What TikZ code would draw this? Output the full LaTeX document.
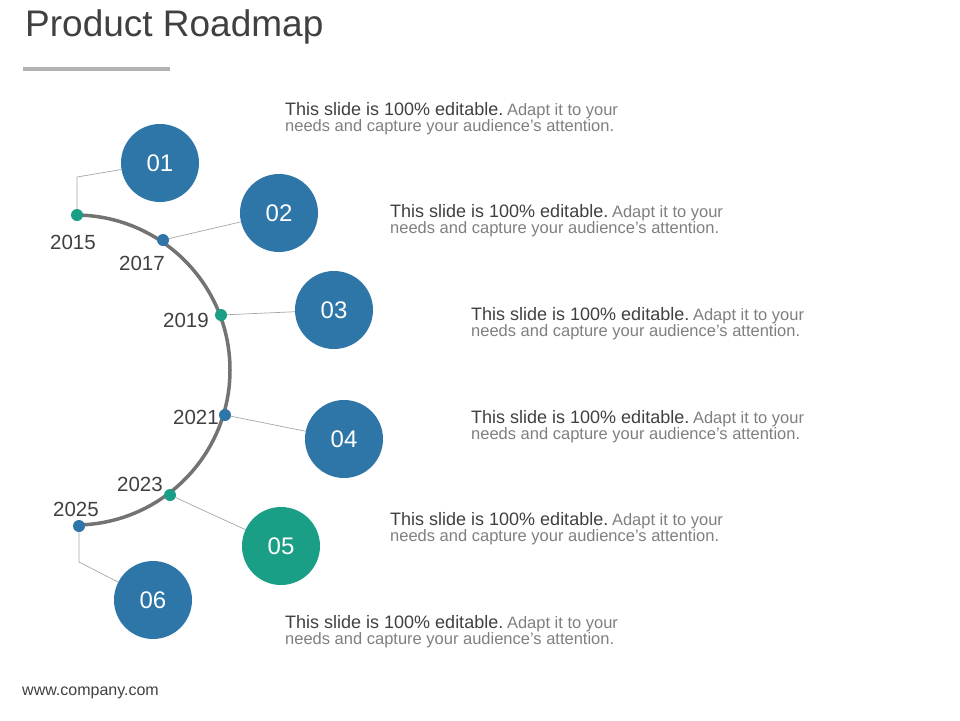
\documentclass[tikz,border=0pt]{standalone}
\usepackage{fontspec}
\setmainfont{Liberation Sans}
\usepackage{xcolor}
\usetikzlibrary{positioning}
\definecolor{roadblue}{HTML}{2E75A8}
\definecolor{roadgreen}{HTML}{1A9E85}
\definecolor{darktext}{HTML}{404040}
\definecolor{lighttext}{HTML}{7F7F7F}
\newcommand{\slidetext}{{\fontsize{18}{21}\selectfont\color{darktext}This slide is 100\% editable.} {\fontsize{16.5}{21}\selectfont\color{lighttext}Adapt it to your}\\{\fontsize{16.5}{21}\selectfont\color{lighttext}needs and capture your audience's attention.}}
\begin{document}
\begin{tikzpicture}[x=1pt, y=-1pt,
    step circle/.style={circle, minimum size=78pt, inner sep=0pt, text=white, font=\fontsize{24}{24}\selectfont},
    dot/.style={circle, minimum size=12pt, inner sep=0pt},
    year/.style={text=darktext, font=\fontsize{20.5}{20.5}\selectfont, inner sep=0pt},
    note/.style={anchor=north west, align=left, inner sep=0pt},
    link/.style={draw=black!35, line width=0.7pt}]
    \useasboundingbox (0,0) rectangle (960,720);

    % header
    \node[anchor=west, inner sep=0pt, text=darktext, font=\fontsize{37}{37}\selectfont] (title) at (25,27) {Product Roadmap};
    \draw[black!30, line width=3.5pt] (23,69) -- (170,69);

    % timeline arc
    \draw[black!55, line width=3.5pt] (75,370) ++(90:155) arc[start angle=90, end angle=-90, radius=155];

    \node[dot, fill=roadgreen] (d1) at (77,215) {};
    \node[dot, fill=roadblue] (d2) at (163,240) {};
    \node[dot, fill=roadgreen] (d3) at (221,315) {};
    \node[dot, fill=roadblue] (d4) at (225,415) {};
    \node[dot, fill=roadgreen] (d5) at (170,495) {};
    \node[dot, fill=roadblue] (d6) at (79,526) {};

    \node[step circle, fill=roadblue] (c1) at (160,163) {01};
    \node[step circle, fill=roadblue] (c2) at (279,213) {02};
    \node[step circle, fill=roadblue] (c3) at (334,310) {03};
    \node[step circle, fill=roadblue] (c4) at (344,439) {04};
    \node[step circle, fill=roadgreen] (c5) at (281,546) {05};
    \node[step circle, fill=roadblue] (c6) at (153,600) {06};

    \coordinate (k1) at (77,177);
    \coordinate (k6) at (79,562);
    \draw[link] (d1) -- (k1) -- (c1);
    \draw[link] (d2) -- (c2);
    \draw[link] (d3) -- (c3);
    \draw[link] (d4) -- (c4);
    \draw[link] (d5) -- (c5);
    \draw[link] (d6) -- (k6) -- (c6);

    \node[year] (y1) at (73,242) {2015};
    \node[year] (y2) at (142,263) {2017};
    \node[year] (y3) at (186,320) {2019};
    \node[year] (y4) at (196,417) {2021};
    \node[year] (y5) at (140,484) {2023};
    \node[year] (y6) at (76,509) {2025};

    \node[note] (t1) at (285,102) {\slidetext};
    \node[note] (t2) at (390,204) {\slidetext};
    \node[note] (t3) at (471,307) {\slidetext};
    \node[note] (t4) at (471,410) {\slidetext};
    \node[note] (t5) at (390,512) {\slidetext};
    \node[note] (t6) at (285,615) {\slidetext};

    \node[anchor=west, inner sep=0pt, text=darktext, font=\fontsize{16}{16}\selectfont] (web) at (22,693) {www.company.com};
\end{tikzpicture}
\end{document}
